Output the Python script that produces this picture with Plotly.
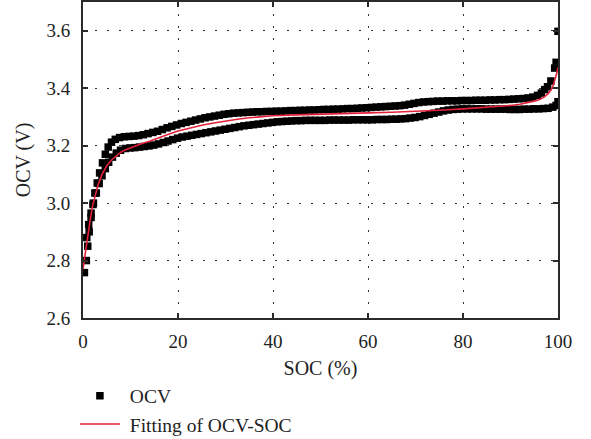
import plotly.graph_objects as go

# Measured open-circuit voltage, charging branch (upper curve)
charge_soc = [0.3, 0.7, 1.0, 1.3, 1.7, 2.1, 2.5, 3.0, 3.5, 4.1, 4.7, 5.3, 6.0, 6.8, 7.7, 8.7, 9.7,
              10.7, 11.7, 12.7, 13.7, 14.7, 15.7, 16.7, 17.7, 18.7, 19.7, 20.7, 21.7, 22.7, 23.7,
              24.7, 25.7, 26.7, 27.7, 28.7, 29.7, 30.7, 31.7, 32.7, 33.7, 34.7, 35.7, 36.7, 37.7,
              38.7, 39.7, 40.7, 41.7, 42.7, 43.7, 44.7, 45.7, 46.7, 47.7, 48.7, 49.7, 50.7, 51.7,
              52.7, 53.7, 54.7, 55.7, 56.7, 57.7, 58.7, 59.7, 60.7, 61.7, 62.7, 63.7, 64.7, 65.7,
              66.7, 67.7, 68.7, 69.7, 70.7, 71.7, 72.7, 73.7, 74.7, 75.7, 76.7, 77.7, 78.7, 79.7,
              80.7, 81.7, 82.7, 83.7, 84.7, 85.7, 86.7, 87.7, 88.7, 89.7, 90.7, 91.7, 92.7, 93.7,
              94.7, 95.7, 96.5, 97.2, 97.8, 98.5, 99.3, 99.6, 100.0]
charge_ocv = [2.758, 2.800, 2.850, 2.900, 2.950, 2.995, 3.035, 3.070, 3.105, 3.140, 3.170, 3.195,
              3.212, 3.222, 3.228, 3.231, 3.232, 3.233, 3.235, 3.238, 3.242, 3.246, 3.250, 3.256,
              3.262, 3.267, 3.272, 3.277, 3.281, 3.285, 3.289, 3.293, 3.297, 3.300, 3.303, 3.306,
              3.309, 3.311, 3.313, 3.314, 3.315, 3.316, 3.317, 3.318, 3.318, 3.319, 3.319, 3.320,
              3.320, 3.321, 3.322, 3.322, 3.323, 3.323, 3.324, 3.324, 3.325, 3.326, 3.326, 3.327,
              3.327, 3.328, 3.329, 3.329, 3.330, 3.331, 3.332, 3.333, 3.334, 3.335, 3.336, 3.337,
              3.338, 3.339, 3.341, 3.344, 3.347, 3.350, 3.352, 3.353, 3.354, 3.355, 3.355, 3.356,
              3.356, 3.356, 3.357, 3.357, 3.357, 3.358, 3.358, 3.358, 3.359, 3.359, 3.360, 3.360,
              3.361, 3.362, 3.363, 3.364, 3.366, 3.369, 3.375, 3.383, 3.395, 3.405, 3.425, 3.470,
              3.490, 3.598]

# Measured open-circuit voltage, discharging branch (lower curve)
discharge_soc = [0.8, 1.2, 1.7, 2.2, 2.8, 3.4, 4.0, 4.7, 5.4, 6.2, 7.0, 7.9, 8.9, 9.9, 10.9, 11.9,
                 12.9, 13.9, 14.9, 15.9, 16.9, 17.9, 18.9, 19.9, 20.9, 21.9, 22.9, 23.9, 24.9, 25.9,
                 26.9, 27.9, 28.9, 29.9, 30.9, 31.9, 32.9, 33.9, 34.9, 35.9, 36.9, 37.9, 38.9, 39.9,
                 40.9, 41.9, 42.9, 43.9, 44.9, 45.9, 46.9, 47.9, 48.9, 49.9, 50.9, 51.9, 52.9, 53.9,
                 54.9, 55.9, 56.9, 57.9, 58.9, 59.9, 60.9, 61.9, 62.9, 63.9, 64.9, 65.9, 66.9, 67.9,
                 68.9, 69.9, 70.9, 71.9, 72.9, 73.9, 74.9, 75.9, 76.9, 77.9, 78.9, 79.9, 80.9, 81.9,
                 82.9, 83.9, 84.9, 85.9, 86.9, 87.9, 88.9, 89.9, 90.9, 91.9, 92.9, 93.9, 94.9, 95.9,
                 96.9, 97.9, 98.9, 99.6, 100.0]
discharge_ocv = [2.880, 2.925, 2.965, 3.000, 3.035, 3.068, 3.095, 3.120, 3.142, 3.160, 3.174, 3.184,
                 3.190, 3.192, 3.193, 3.195, 3.197, 3.199, 3.202, 3.206, 3.211, 3.216, 3.221, 3.226,
                 3.230, 3.233, 3.236, 3.239, 3.242, 3.245, 3.248, 3.251, 3.254, 3.257, 3.260, 3.263,
                 3.266, 3.269, 3.271, 3.273, 3.275, 3.277, 3.279, 3.281, 3.283, 3.284, 3.285, 3.286,
                 3.287, 3.287, 3.288, 3.288, 3.288, 3.288, 3.288, 3.289, 3.289, 3.289, 3.289, 3.289,
                 3.290, 3.290, 3.290, 3.290, 3.290, 3.291, 3.291, 3.291, 3.292, 3.292, 3.293, 3.294,
                 3.296, 3.298, 3.301, 3.305, 3.309, 3.313, 3.317, 3.321, 3.324, 3.326, 3.327, 3.328,
                 3.328, 3.328, 3.328, 3.328, 3.327, 3.327, 3.327, 3.327, 3.327, 3.326, 3.326, 3.326,
                 3.327, 3.327, 3.328, 3.328, 3.329, 3.330, 3.334, 3.340, 3.353]

# Fitted OCV-SOC curve
fit_soc = [0, 0.25, 0.5, 0.8, 1.1, 1.5, 2.0, 2.6, 3.2, 4.0, 5.0, 6.0, 7.0, 8.0, 9.0, 10.0, 12.0,
           14.0, 16.0, 18.0, 20.0, 22.5, 25.0, 27.5, 30.0, 32.5, 35.0, 37.5, 40.0, 45.0, 50.0, 55.0,
           60.0, 65.0, 70.0, 75.0, 80.0, 85.0, 88.0, 90.0, 92.0, 94.0, 95.0, 96.0, 97.0, 98.0, 98.5,
           99.0, 99.4, 99.7, 100.0]
fit_ocv = [2.770, 2.800, 2.835, 2.875, 2.905, 2.940, 2.990, 3.030, 3.065, 3.100, 3.130, 3.150,
           3.165, 3.177, 3.186, 3.193, 3.205, 3.215, 3.228, 3.240, 3.251, 3.262, 3.271, 3.279,
           3.286, 3.292, 3.297, 3.301, 3.304, 3.307, 3.310, 3.312, 3.314, 3.316, 3.319, 3.323,
           3.328, 3.333, 3.337, 3.340, 3.344, 3.350, 3.355, 3.360, 3.368, 3.382, 3.393, 3.410,
           3.430, 3.450, 3.472]

x_ticks = [0, 20, 40, 60, 80, 100]
y_ticks = [2.6, 2.8, 3.0, 3.2, 3.4, 3.6]

FONT = "Liberation Serif"
INK = "#222"

fig = go.Figure()
fig.add_trace(go.Scatter(
    x=charge_soc + discharge_soc,
    y=charge_ocv + discharge_ocv,
    mode="markers",
    name=" OCV",
    marker=dict(symbol="square", size=7.5, color="black", line=dict(width=0)),
))
fig.add_trace(go.Scatter(
    x=fit_soc, y=fit_ocv,
    mode="lines",
    name=" Fitting of OCV-SOC",
    line=dict(color="#e3203a", width=1.6),
))

axis_common = dict(
    showline=True, linecolor="#2b2b2b", linewidth=2, mirror="ticks",
    ticks="inside", ticklen=5, tickwidth=1.5, tickcolor="#2b2b2b",
    showgrid=True, gridcolor="#333", gridwidth=1, griddash="2px,10px",
    zeroline=False, automargin=False,
    tickfont=dict(family=FONT, size=19, color=INK),
    title_font=dict(family=FONT, size=20, color=INK),
)

fig.update_xaxes(
    range=[0, 100], tickvals=x_ticks, ticktext=[str(v) for v in x_ticks],
    title_text="SOC (%)", title_standoff=10, ticklabelstandoff=5,
    **axis_common,
)
fig.update_yaxes(
    range=[2.6, 3.7], tickvals=y_ticks, ticktext=[f"{v:.1f}" for v in y_ticks],
    title_text="OCV (V)", title_standoff=10, ticklabelstandoff=7,
    **axis_common,
)

fig.update_layout(
    width=591, height=439,
    margin=dict(l=83, r=33, t=2, b=121, autoexpand=False),
    plot_bgcolor="white", paper_bgcolor="white",
    font=dict(family=FONT, size=19, color=INK),
    legend=dict(
        x=-0.017, xanchor="left", y=-0.185, yanchor="top",
        orientation="v", itemwidth=40,
        font=dict(family=FONT, size=19.5, color=INK),
        bgcolor="rgba(0,0,0,0)",
    ),
)

fig.write_html("out.html")
